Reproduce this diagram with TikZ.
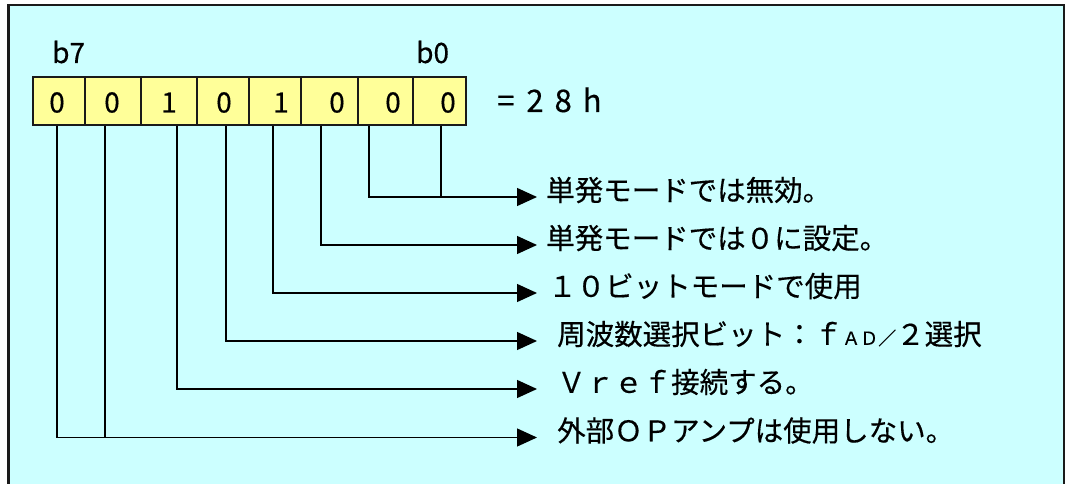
\documentclass[tikz,border=0pt]{standalone}
\usepackage{fontspec}
\setmainfont{Noto Sans CJK JP}[FakeBold=0.4]
\usetikzlibrary{arrows.meta}
\definecolor{bgcyan}{HTML}{CCFFFF}
\definecolor{cellyellow}{HTML}{FFFF99}
\definecolor{framecol}{HTML}{1A1A1A}
\tikzset{
  frame/.style={draw=framecol,line width=2.2pt,fill=bgcyan},
  cell/.style={draw=framecol,line width=1.5pt,fill=cellyellow,minimum height=48pt,inner sep=0pt},
  digit/.style={font=\fontsize{28pt}{28pt}\selectfont,inner sep=0pt},
  bitlabel/.style={font=\fontsize{28pt}{28pt}\selectfont,inner sep=0pt,anchor=base west},
  desc/.style={font=\fontsize{28.5pt}{28.5pt}\selectfont,inner sep=0pt,anchor=west,text height=0.88em,text depth=0.12em},
  conn/.style={line width=1.3pt,draw=black},
  arr/.style={conn,-{Triangle[length=20pt,width=18pt]}}
}
\begin{document}
\begin{tikzpicture}[x=1pt,y=-1pt]
\useasboundingbox (0,0) rectangle (1072,484);
\clip (0,0) rectangle (1072,484);
\fill[white] (0,0) rectangle (1072,484);
\draw[frame] (8.5,5) rectangle (1064,500);

% bit labels
\node[bitlabel] (lb7) at (52,63) {b7};
\node[bitlabel] (lb0) at (416,63) {b0};

% cells
\node[cell,minimum width=52pt] (c7) at (59,101) {};
\node[cell,minimum width=56pt] (c6) at (113,101) {};
\node[cell,minimum width=56pt] (c5) at (169,101) {};
\node[cell,minimum width=52pt] (c4) at (223,101) {};
\node[cell,minimum width=52pt] (c3) at (275,101) {};
\node[cell,minimum width=57pt] (c2) at (329.5,101) {};
\node[cell,minimum width=55pt] (c1) at (385.5,101) {};
\node[cell,minimum width=53pt] (c0) at (439.5,101) {};

% digits
\node[digit] (d7) at (57,102.5) {0};
\node[digit] (d6) at (112,102.5) {0};
\node[digit] (d5) at (169,102.5) {1};
\node[digit] (d4) at (224,102.5) {0};
\node[digit] (d3) at (281,102.5) {1};
\node[digit] (d2) at (337,102.5) {0};
\node[digit] (d1) at (393,102.5) {0};
\node[digit] (d0) at (448,102.5) {0};

\node[font=\fontsize{31pt}{31pt}\selectfont,inner sep=0pt,anchor=base west] (hex) at (497,112) {=\kern12pt 2\kern11pt 8\kern11pt h};

% descriptions
\node[desc] (t1) at (546,197) {単発モードでは無効。};
\node[desc] (t2) at (546,245) {単発モードでは０に設定。};
\node[desc] (t3) at (548,293) {１０ビットモードで使用};
\node[desc] (t4) at (557,341) {周波数選択ビット：ｆ{\fontsize{18pt}{18pt}\selectfont ＡＤ／}２選択};
\node[desc] (t5) at (557,389) {Ｖｒｅｆ接続する。};
\node[desc] (t6) at (557,437.5) {外部ＯＰアンプは使用しない。};

% arrow tips
\coordinate (tip1) at (537,197);
\coordinate (tip2) at (537,245);
\coordinate (tip3) at (537,293);
\coordinate (tip4) at (537,341);
\coordinate (tip5) at (537,389);
\coordinate (tip6) at (537,437.5);

% line starts
\coordinate (s7) at ([xshift=-2pt]c7.south);
\coordinate (s6) at ([xshift=-8pt]c6.south);
\coordinate (s5) at ([xshift=8pt]c5.south);
\coordinate (s4) at ([xshift=3pt]c4.south);
\coordinate (s3) at ([xshift=-2pt]c3.south);
\coordinate (s2) at ([xshift=-8.5pt]c2.south);
\coordinate (s1) at ([xshift=-16.5pt]c1.south);
\coordinate (s0) at ([xshift=1.5pt]c0.south);

% connectors
\draw[conn] (s0) -- (s0 |- tip1);
\draw[arr] (s1) |- (tip1);
\draw[arr] (s2) |- (tip2);
\draw[arr] (s3) |- (tip3);
\draw[arr] (s4) |- (tip4);
\draw[arr] (s5) |- (tip5);
\draw[arr] (s7) |- (tip6);
\draw[conn] (s6) -- (s6 |- tip6);
\end{tikzpicture}
\end{document}
